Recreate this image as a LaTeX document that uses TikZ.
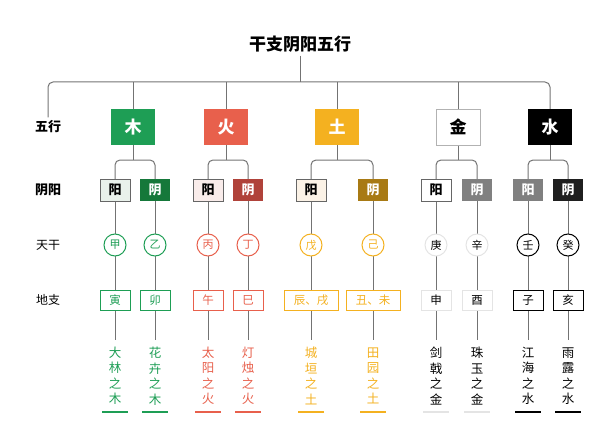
\documentclass[tikz,border=0pt]{standalone}
\usepackage{fontspec}
\setmainfont{Noto Sans CJK SC}
\begin{document}
\begin{tikzpicture}[x=1pt,y=-1pt,
 ln/.style={draw=black!55,line width=1pt,rounded corners=5pt},
 wx/.style={minimum width=44pt,minimum height=36pt,inner sep=0pt,font=\bfseries\fontsize{17}{17}\selectfont},
 yy/.style={minimum width=30pt,minimum height=22pt,inner sep=0pt,line width=1pt,font=\bfseries\fontsize{13}{13}\selectfont},
 tg/.style={circle,minimum size=22pt,inner sep=0pt,line width=1pt,font=\fontsize{11}{11}\selectfont},
 dz/.style={minimum width=30pt,minimum height=20pt,inner sep=0pt,line width=1pt,font=\fontsize{11.5}{11.5}\selectfont},
 tx/.style={align=center,inner sep=0pt,font=\fontsize{12.5}{15.5}\selectfont},
 lab/.style={font=\bfseries\fontsize{13}{13}\selectfont}]
\definecolor{wg}{HTML}{1E9E55}\definecolor{wd}{HTML}{15783A}\definecolor{wl}{HTML}{E9F1EB}
\definecolor{fr}{HTML}{E8604C}\definecolor{fd}{HTML}{B0423A}\definecolor{fl}{HTML}{F9ECEA}
\definecolor{er}{HTML}{F4B120}\definecolor{ed}{HTML}{A87A14}\definecolor{el}{HTML}{FBF2E6}
\definecolor{mg}{HTML}{E4E4E4}
\useasboundingbox (0,0) rectangle (600,428);
\node[font=\bfseries\fontsize{17}{17}\selectfont] (title) at (300,44) {干支阴阳五行};
\node[lab] (l1) at (48,127) {五行};
\node[lab] (l2) at (48,190) {阴阳};
\node[font=\fontsize{12}{12}\selectfont] (l3) at (48,245) {天干};
\node[font=\fontsize{12}{12}\selectfont] (l4) at (48,300) {地支};
\draw[ln] (l1.north) -- (48,82) -- (550,82) -- (550,109);
\draw[ln] (title.south) -- (300,82);
\foreach \x in {133,226,337,458} \draw[ln] (\x,82) -- (\x,109);
\node[wx,fill=wg,text=white] (w) at (133,127) {木};
\node[wx,fill=fr,text=white] (f) at (226,127) {火};
\node[wx,fill=er,text=white] (e) at (337,127) {土};
\node[wx,draw=black!30,line width=1pt,fill=white] (m) at (458,127) {金};
\node[wx,fill=black,text=white] (s) at (550,127) {水};
\newcommand\col[3]{%
 \draw[ln] (#1.south) -- (#1.south |- 0,160);
 \draw[ln] (#2,190) -- (#2,160) -- (#3,160) -- (#3,190);
}
\newcommand\stem[9]{%
 \draw[draw=black!55,line width=1pt] (#1,190) -- (#1,340);
 \node[yy,#2] at (#1,190) {#3};
 \node[tg,#4] at (#1,245) {#5};
 \node[dz,#6] at (#1,300) {#7};
 \node[tx,text=#8,fill=white] at (#1,376) {#9};
}
\col{w}{115}{155}
\col{f}{208}{248}
\col{e}{311}{373}
\col{m}{436}{477}
\col{s}{528}{568}
\stem{115}{draw=black!60,fill=wl}{阳}{draw=wg,fill=white,text=wg}{甲}{draw=wg,fill=white,text=wg}{寅}{wg}{大\\林\\之\\木}
\stem{155}{fill=wd,text=white}{阴}{draw=wg,fill=white,text=wg}{乙}{draw=wg,fill=white,text=wg}{卯}{wg}{花\\卉\\之\\木}
\stem{208}{draw=black!60,fill=fl}{阳}{draw=fr,fill=white,text=fr}{丙}{draw=fr,fill=white,text=fr}{午}{fr}{太\\阳\\之\\火}
\stem{248}{fill=fd,text=white}{阴}{draw=fr,fill=white,text=fr}{丁}{draw=fr,fill=white,text=fr}{巳}{fr}{灯\\烛\\之\\火}
\stem{311}{draw=black!60,fill=el}{阳}{draw=er,fill=white,text=er}{戊}{draw=er,fill=white,text=er,minimum width=54pt}{辰、戌}{er}{城\\垣\\之\\土}
\stem{373}{fill=ed,text=white}{阴}{draw=er,fill=white,text=er}{己}{draw=er,fill=white,text=er,minimum width=54pt}{丑、未}{er}{田\\园\\之\\土}
\stem{436}{draw=black!60,fill=white}{阳}{draw=mg,fill=white}{庚}{draw=mg,fill=white}{申}{black}{剑\\戟\\之\\金}
\stem{477}{fill=black!50,text=white}{阴}{draw=mg,fill=white}{辛}{draw=mg,fill=white}{酉}{black}{珠\\玉\\之\\金}
\stem{528}{fill=black!50,text=white}{阳}{draw=black,fill=white}{壬}{draw=black,fill=white}{子}{black}{江\\海\\之\\水}
\stem{568}{fill=black!88,text=white}{阴}{draw=black,fill=white}{癸}{draw=black,fill=white}{亥}{black}{雨\\露\\之\\水}
\foreach \x/\c in {115/wg,155/wg,208/fr,248/fr,311/er,373/er,436/mg,477/mg,528/black,568/black}
  \draw[\c,line width=1.2pt] (\x-13,412) -- (\x+13,412);
\end{tikzpicture}
\end{document}
